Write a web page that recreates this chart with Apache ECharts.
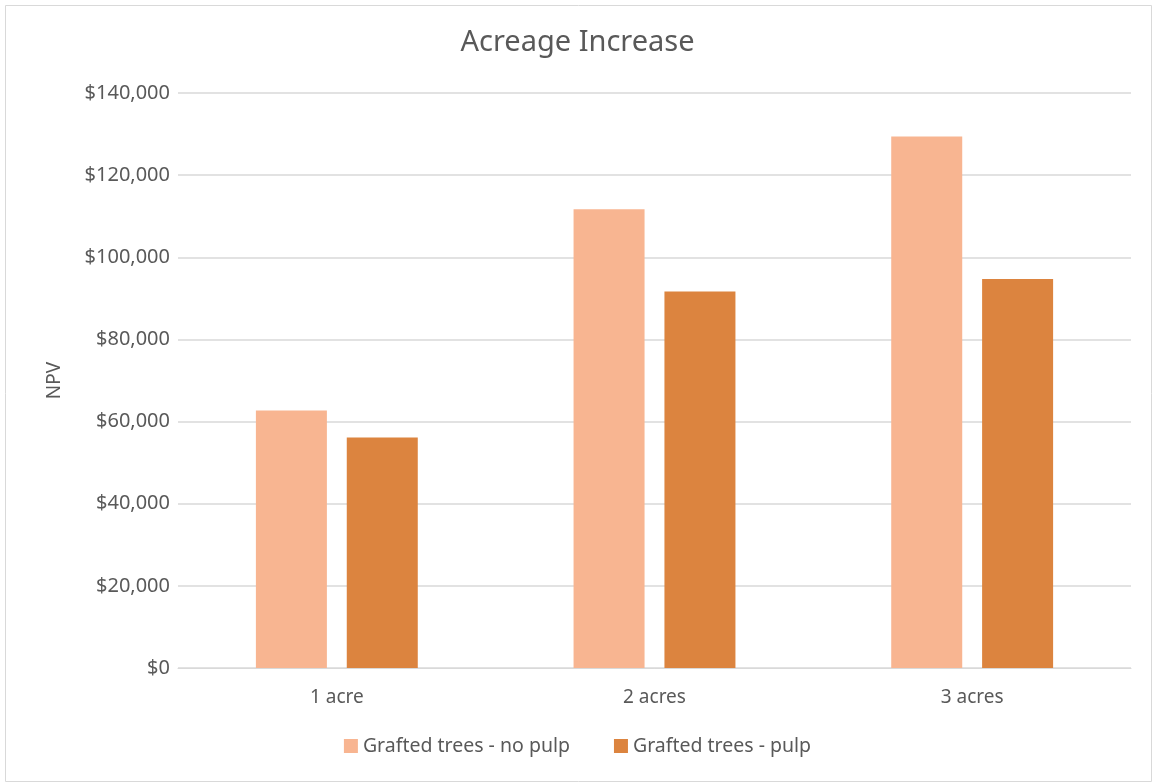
<!DOCTYPE html>
<html>
<head>
<meta charset="utf-8">
<script src="https://cdn.jsdelivr.net/npm/echarts@6/dist/echarts.min.js"></script>
<style>
html,body{margin:0;padding:0;background:#fff;}
#chart{width:1155px;height:782px;}
</style>
</head>
<body>
<div id="chart"></div>
<script>
const categories = ['1 acre', '2 acres', '3 acres'];
const seriesNames = ['Grafted trees - no pulp', 'Grafted trees - pulp'];
const noPulp = [62700, 111700, 129400];
const pulp = [56100, 91700, 94700];
const yTicks = { min: 0, max: 140000, interval: 20000 };

const chart = echarts.init(document.getElementById('chart'));
const font = 'Noto Sans';
chart.setOption({
  animation: false,
  backgroundColor: '#fff',
  title: {
    text: 'Acreage Increase',
    left: 'center',
    top: 23,
    textStyle: { fontFamily: font, fontSize: 29, fontWeight: 'normal', color: '#595959' }
  },
  graphic: [{
    type: 'rect',
    shape: { x: 5.5, y: 5.5, width: 1146, height: 776 },
    style: { fill: 'none', stroke: '#d9d9d9', lineWidth: 1 },
    silent: true
  }],
  legend: {
    bottom: 21,
    left: 'center',
    itemWidth: 14,
    itemHeight: 14,
    itemGap: 44,
    icon: 'rect',
    textStyle: { fontFamily: font, fontSize: 19.5, color: '#595959' },
    data: seriesNames
  },
  grid: { left: 178, right: 24, top: 93, bottom: 114, containLabel: false },
  xAxis: {
    type: 'category',
    data: categories,
    axisLine: { lineStyle: { color: '#d9d9d9', width: 1 } },
    axisTick: { show: false },
    axisLabel: { fontFamily: font, fontSize: 19, color: '#595959', margin: 20 }
  },
  yAxis: {
    type: 'value',
    min: yTicks.min,
    max: yTicks.max,
    interval: yTicks.interval,
    name: 'NPV',
    nameLocation: 'middle',
    nameGap: 114,
    nameRotate: 90,
    nameTextStyle: { fontFamily: font, fontSize: 19, color: '#595959' },
    axisLine: { show: false },
    axisTick: { show: false },
    splitLine: { lineStyle: { color: '#d9d9d9', width: 1.5 } },
    axisLabel: {
      fontFamily: font, fontSize: 20, color: '#595959', margin: 8,
      formatter: v => '$' + v.toLocaleString('en-US')
    }
  },
  series: [
    { name: seriesNames[0], type: 'bar', data: noPulp, barWidth: 71, barGap: '28%', itemStyle: { color: '#f8b591' } },
    { name: seriesNames[1], type: 'bar', data: pulp, barWidth: 71, barGap: '28%', itemStyle: { color: '#dc843f' } }
  ]
});
</script>
</body>
</html>
